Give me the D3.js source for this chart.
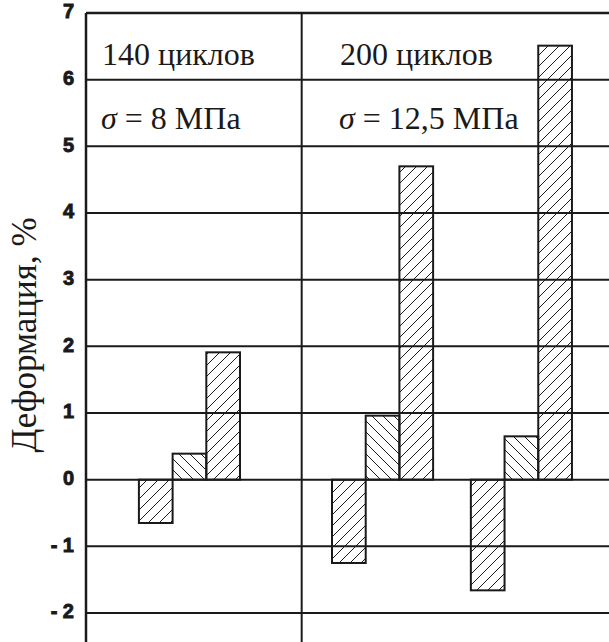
<!DOCTYPE html>
<html>
<head>
<meta charset="utf-8">
<script src="https://cdn.jsdelivr.net/npm/d3@7"></script>
<style>
  body { margin: 0; background: #fff; }
</style>
</head>
<body>
<div id="chart"></div>
<script>
// values, deformation in %
let groups = ["140-8", "200-12.5a", "200-12.5b"];
let shrink = [-0.65, -1.25, -1.66];
let middle = [0.39, 0.96, 0.65];
let total = [1.91, 4.70, 6.51];
let yTicks = [-2, -1, 0, 1, 2, 3, 4, 5, 6, 7];
let panelTitles = ["140 циклов", "200 циклов"];
let panelStress = ["8 МПа", "12,5 МПа"];
let yTitle = "Деформация, %";

// position of each group's first bar, in bar widths from the axis
let groupStart = [1.57, 7.30, 11.42];
let dividerAt = 6.40;

let width = 609, height = 642;
let margin = { top: 13, right: 0, bottom: 0, left: 86 };
let serif = "'Liberation Serif', 'Times New Roman', Tinos, 'DejaVu Serif', serif";
let sans = "'Liberation Sans', Arial, Arimo, 'DejaVu Sans', sans-serif";

let svg = d3.select("#chart")
  .append("svg")
  .attr("width", width)
  .attr("height", height);

let defs = svg.append("defs");
let p = 11; // hatch period
function hatch(id, d) {
  defs.append("pattern")
    .attr("id", id)
    .attr("patternUnits", "userSpaceOnUse")
    .attr("width", p)
    .attr("height", p)
    .append("path")
    .attr("d", d)
    .style("stroke", "#1a1a1a")
    .style("stroke-width", 1);
}
hatch("fwd", `M0,${p}L${p},0M-2,2L2,-2M${p - 2},${p + 2}L${p + 2},${p - 2}`);
hatch("back", `M0,0L${p},${p}M-2,${p - 2}L2,${p + 2}M${p - 2},-2L${p + 2},2`);

let x = d3.scaleLinear()
  .domain([0, (width - margin.left) / 33.7])
  .range([margin.left, width]);

let y = d3.scaleLinear()
  .domain([7, -2])
  .range([margin.top, 613]);
let yBottom = y.invert(height);

let ink = "#1a1a1a";

// grid lines
svg.selectAll(".grid")
  .data(yTicks)
  .enter()
  .append("line")
  .attr("x1", margin.left)
  .attr("x2", width)
  .attr("y1", d => y(d))
  .attr("y2", d => y(d))
  .style("stroke", ink)
  .style("stroke-width", d => d === 7 ? 2.5 : 2);

// axis line and panel divider
svg.append("line")
  .attr("x1", margin.left).attr("x2", margin.left)
  .attr("y1", y(7)).attr("y2", y(yBottom))
  .style("stroke", ink).style("stroke-width", 2.5);
svg.append("line")
  .attr("x1", x(dividerAt)).attr("x2", x(dividerAt))
  .attr("y1", y(7)).attr("y2", y(yBottom))
  .style("stroke", ink).style("stroke-width", 2);

// tick labels
svg.selectAll(".yLabel")
  .data(yTicks)
  .enter()
  .append("text")
  .text(d => d < 0 ? "- " + Math.abs(d) : d)
  .attr("x", 74)
  .attr("y", d => y(d) - 2)
  .attr("dy", "0.36em")
  .style("text-anchor", "end")
  .style("font-family", sans)
  .style("font-weight", "900")
  .style("font-size", "20px")
  .style("fill", ink)
  .style("stroke", ink)
  .style("stroke-width", 0.9);

// y title
svg.append("text")
  .text(yTitle)
  .attr("transform", "translate(36," + 335 + ") rotate(-90)")
  .style("text-anchor", "middle")
  .style("font-family", serif)
  .style("font-size", "35px")
  .style("fill", ink);

// bars
let bars = [];
groups.forEach((g, i) => {
  bars.push({ slot: groupStart[i], value: shrink[i], fill: "fwd" });
  bars.push({ slot: groupStart[i] + 1, value: middle[i], fill: "back" });
  bars.push({ slot: groupStart[i] + 2, value: total[i], fill: "fwd" });
});

svg.selectAll(".bar")
  .data(bars)
  .enter()
  .append("rect")
  .attr("x", d => x(d.slot))
  .attr("width", x(1) - x(0))
  .attr("y", d => y(Math.max(0, d.value)))
  .attr("height", d => Math.abs(y(d.value) - y(0)))
  .style("fill", d => "url(#" + d.fill + ")")
  .style("stroke", ink)
  .style("stroke-width", 2);

// panel captions
let panelX = [102, 340];
let caption = svg.selectAll(".caption")
  .data(panelTitles)
  .enter()
  .append("g")
  .style("font-family", serif)
  .style("font-size", "32px")
  .style("fill", ink);

caption.append("text")
  .attr("x", (d, i) => panelX[i])
  .attr("y", 65)
  .text(d => d);

let stress = caption.append("text")
  .attr("x", (d, i) => panelX[i] - 1)
  .attr("y", 129);
stress.append("tspan")
  .style("font-style", "italic")
  .text("σ");
stress.append("tspan")
  .text((d, i) => " = " + panelStress[i]);
</script>
</body>
</html>
